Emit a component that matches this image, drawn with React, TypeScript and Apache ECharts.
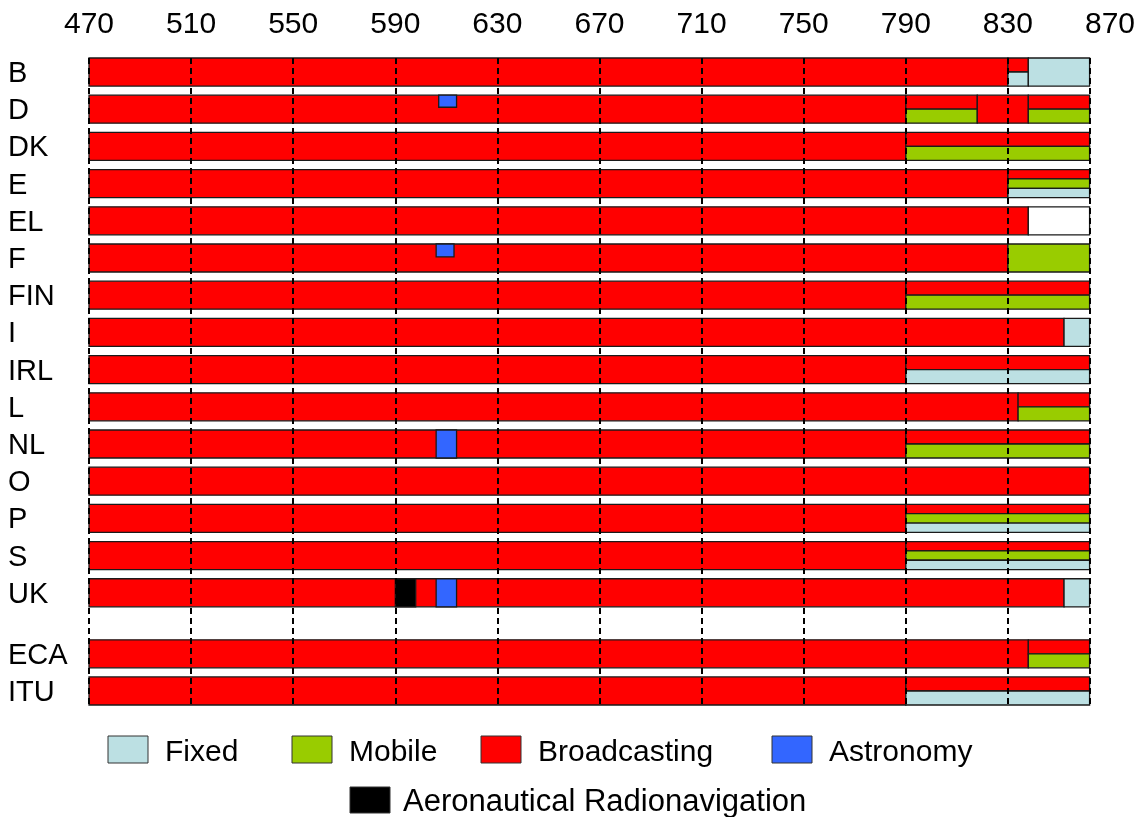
import React, { useEffect, useRef } from "react";
import * as echarts from "echarts";

// Row (country / organisation) names and their vertical positions (gap before ECA)
const rowNames = ["B", "D", "DK", "E", "EL", "F", "FIN", "I", "IRL", "L", "NL", "O", "P", "S", "UK", "ECA", "ITU"];
const rowPositions = [0, 1, 2, 3, 4, 5, 6, 7, 8, 9, 10, 11, 12, 13, 14, 15.64, 16.64];

// Frequency axis (MHz)
const axisMin = 470;
const axisMax = 870;
const axisInterval = 40;
const gridLineValues = [470, 510, 550, 590, 630, 670, 710, 750, 790, 830, 862];

// Services
const services = ["Fixed", "Mobile", "Broadcasting", "Astronomy", "Aeronautical Radionavigation", "Unallocated"];
const serviceColors = ["#BCE0E3", "#99CC00", "#FF0000", "#3366FF", "#000000", "#FFFFFF"];

// Segments: [rowIndex, startMHz, endMHz, serviceIndex, topFraction, bottomFraction]
const segB = [[0, 470, 830, 2, 0, 1], [0, 830, 838, 2, 0, 0.5], [0, 830, 838, 0, 0.5, 1], [0, 838, 862, 0, 0, 1]];
const segD = [[1, 470, 790, 2, 0, 1], [1, 607, 614, 3, 0, 0.43], [1, 790, 818, 2, 0, 0.5], [1, 790, 818, 1, 0.5, 1], [1, 818, 838, 2, 0, 1], [1, 838, 862, 2, 0, 0.5], [1, 838, 862, 1, 0.5, 1]];
const segDK = [[2, 470, 790, 2, 0, 1], [2, 790, 862, 2, 0, 0.5], [2, 790, 862, 1, 0.5, 1]];
const segE = [[3, 470, 830, 2, 0, 1], [3, 830, 862, 2, 0, 1 / 3], [3, 830, 862, 1, 1 / 3, 2 / 3], [3, 830, 862, 0, 2 / 3, 1]];
const segEL = [[4, 470, 838, 2, 0, 1], [4, 838, 862, 5, 0, 1]];
const segF = [[5, 470, 830, 2, 0, 1], [5, 606, 613, 3, 0, 0.46], [5, 830, 862, 1, 0, 1]];
const segFIN = [[6, 470, 790, 2, 0, 1], [6, 790, 862, 2, 0, 0.5], [6, 790, 862, 1, 0.5, 1]];
const segI = [[7, 470, 852, 2, 0, 1], [7, 852, 862, 0, 0, 1]];
const segIRL = [[8, 470, 790, 2, 0, 1], [8, 790, 862, 2, 0, 0.5], [8, 790, 862, 0, 0.5, 1]];
const segL = [[9, 470, 834, 2, 0, 1], [9, 834, 862, 2, 0, 0.5], [9, 834, 862, 1, 0.5, 1]];
const segNL = [[10, 470, 790, 2, 0, 1], [10, 606, 614, 3, 0, 1], [10, 790, 862, 2, 0, 0.5], [10, 790, 862, 1, 0.5, 1]];
const segO = [[11, 470, 862, 2, 0, 1]];
const segP = [[12, 470, 790, 2, 0, 1], [12, 790, 862, 2, 0, 1 / 3], [12, 790, 862, 1, 1 / 3, 2 / 3], [12, 790, 862, 0, 2 / 3, 1]];
const segS = [[13, 470, 790, 2, 0, 1], [13, 790, 862, 2, 0, 1 / 3], [13, 790, 862, 1, 1 / 3, 2 / 3], [13, 790, 862, 0, 2 / 3, 1]];
const segUK = [[14, 470, 852, 2, 0, 1], [14, 590, 598, 4, 0, 1], [14, 606, 614, 3, 0, 1], [14, 852, 862, 0, 0, 1]];
const segECA = [[15, 470, 838, 2, 0, 1], [15, 838, 862, 2, 0, 0.5], [15, 838, 862, 1, 0.5, 1]];
const segITU = [[16, 470, 790, 2, 0, 1], [16, 790, 862, 2, 0, 0.5], [16, 790, 862, 0, 0.5, 1]];

// Legend layout (service index per legend row)
const legendRow1 = [0, 1, 2, 3];
const legendRow2 = [4];

const ROW_H = 0.753;
const FONT = "'Liberation Sans', Arial, Helvetica, sans-serif";

export default function App() {
  const ref = useRef<HTMLDivElement>(null);

  useEffect(() => {
    if (!ref.current) return;
    const chart = echarts.init(ref.current, undefined, { renderer: "svg" });

    const allSegs = [
      ...segB, ...segD, ...segDK, ...segE, ...segEL, ...segF, ...segFIN, ...segI, ...segIRL,
      ...segL, ...segNL, ...segO, ...segP, ...segS, ...segUK, ...segECA, ...segITU,
    ];
    const segData = allSegs.map((s) => [rowPositions[s[0]], s[1], s[2], s[3], s[4], s[5]]);
    const labelData = rowPositions.map((p) => [axisMin, p]);

    const legendBoxX = [108, 292, 481, 772];
    const legendGraphics: any[] = [];
    legendRow1.forEach((svc, i) => {
      legendGraphics.push({
        type: "rect",
        shape: { x: legendBoxX[i], y: 736, width: 40, height: 27 },
        style: { fill: serviceColors[svc], stroke: "#333", lineWidth: 1 },
      });
      legendGraphics.push({
        type: "text",
        x: legendBoxX[i] + 57,
        y: 750,
        style: { text: services[svc], fill: "#000", font: `30px ${FONT}`, textVerticalAlign: "middle" },
      });
    });
    legendRow2.forEach((svc) => {
      legendGraphics.push({
        type: "rect",
        shape: { x: 350, y: 787, width: 40, height: 26 },
        style: { fill: serviceColors[svc], stroke: "#333", lineWidth: 1 },
      });
      legendGraphics.push({
        type: "text",
        x: 403,
        y: 800,
        style: { text: services[svc], fill: "#000", font: `31px ${FONT}`, textVerticalAlign: "middle" },
      });
    });

    chart.setOption({
      animation: false,
      grid: { left: 89, right: 33, top: 58, bottom: 112 },
      xAxis: {
        type: "value",
        position: "top",
        min: axisMin,
        max: axisMax,
        interval: axisInterval,
        axisLine: { show: false },
        axisTick: { show: false },
        splitLine: { show: false },
        axisLabel: { color: "#000", fontSize: 30, fontFamily: FONT, margin: 21 },
      },
      yAxis: {
        type: "value",
        inverse: true,
        min: -0.377,
        max: 17.017,
        show: false,
      },
      graphic: legendGraphics,
      series: [
        {
          type: "custom",
          z: 2,
          clip: false,
          encode: { x: [1, 2], y: 0 },
          data: segData,
          renderItem: (params: any, api: any) => {
            const pos = api.value(0);
            const s = api.value(1);
            const e = api.value(2);
            const svc = api.value(3);
            const f0 = api.value(4);
            const f1 = api.value(5);
            const p0 = api.coord([s, pos]);
            const p1 = api.coord([e, pos]);
            const h = api.size([0, ROW_H])[1];
            const top = p0[1] - h / 2;
            return {
              type: "rect",
              shape: { x: p0[0], y: top + f0 * h, width: p1[0] - p0[0], height: (f1 - f0) * h },
              style: { fill: serviceColors[svc], stroke: "#1a1a1a", lineWidth: 1.3 },
            };
          },
        },
        {
          type: "custom",
          z: 5,
          clip: false,
          encode: { x: 0, y: 1 },
          data: labelData,
          renderItem: (params: any, api: any) => {
            const p = api.coord([api.value(0), api.value(1)]);
            return {
              type: "text",
              x: 8,
              y: p[1],
              style: {
                text: rowNames[params.dataIndex],
                fill: "#000",
                font: `29px ${FONT}`,
                textVerticalAlign: "middle",
                textAlign: "left",
              },
            };
          },
          markLine: {
            silent: true,
            symbol: ["none", "none"],
            label: { show: false },
            lineStyle: { type: [6, 4], color: "#000", width: 2 },
            emphasis: { disabled: true },
            data: gridLineValues.map((v) => ({ xAxis: v })),
          },
        },
      ],
    });

    return () => chart.dispose();
  }, []);

  return <div ref={ref} style={{ position: "fixed", left: 0, top: 0, width: 1143, height: 817 }} />;
}
